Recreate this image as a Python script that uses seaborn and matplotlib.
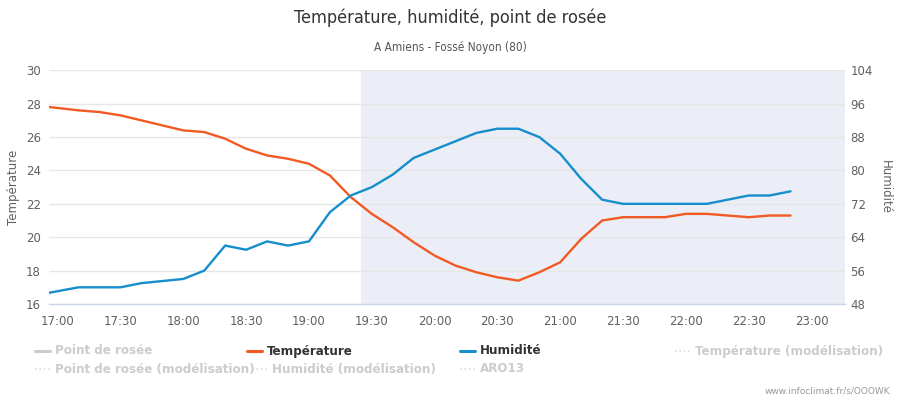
import matplotlib
matplotlib.use("Agg")
import matplotlib.pyplot as plt
from matplotlib.lines import Line2D
import seaborn as sns
import pandas as pd

# ---- data ----
times = ["16:56", "17:10", "17:20", "17:30", "17:40", "17:50", "18:00", "18:10", "18:20",
         "18:30", "18:40", "18:50", "19:00", "19:10", "19:20", "19:30", "19:40", "19:50",
         "20:00", "20:10", "20:20", "20:30", "20:40", "20:50", "21:00", "21:10", "21:20",
         "21:30", "21:40", "21:50", "22:00", "22:10", "22:20", "22:30", "22:40", "22:50"]
temperature = [27.8, 27.6, 27.5, 27.3, 27.0, 26.7, 26.4, 26.3, 25.9,
               25.3, 24.9, 24.7, 24.4, 23.7, 22.4, 21.4, 20.6, 19.7,
               18.9, 18.3, 17.9, 17.6, 17.4, 17.9, 18.5, 19.9, 21.0,
               21.2, 21.2, 21.2, 21.4, 21.4, 21.3, 21.2, 21.3, 21.3]
humidity = [50.7, 52, 52, 52, 53, 53.5, 54, 56, 62,
            61, 63, 62, 63, 70, 74, 76, 79, 83,
            85, 87, 89, 90, 90, 88, 84, 78, 73,
            72, 72, 72, 72, 72, 73, 74, 74, 75]
x_ticks = ["17:00", "17:30", "18:00", "18:30", "19:00", "19:30", "20:00",
           "20:30", "21:00", "21:30", "22:00", "22:30", "23:00"]
temp_ticks = [16, 18, 20, 22, 24, 26, 28, 30]
hum_ticks = [48, 56, 64, 72, 80, 88, 96, 104]
night_start = "19:25"
x_range = ("16:56", "23:16")
legend_items = ["Point de rosée", "Température", "Humidité", "Température (modélisation)",
                "Point de rosée (modélisation)", "Humidité (modélisation)", "ARO13"]

def to_min(s):
    h, m = s.split(":")
    return int(h) * 60 + int(m)

df = pd.DataFrame({"t": [to_min(t) for t in times],
                   "temperature": temperature, "humidity": humidity})

ORANGE = "#F15A22"
BLUE = "#168ECD"
GRID = "#E6E6E6"
AXC = "#CCD6EB"
TXT = "#606060"

sns.set_style("white")
plt.rcParams["font.family"] = ["DejaVu Sans"]

fig = plt.figure(figsize=(9, 4), dpi=100)
ax = fig.add_axes([49.3 / 900, 96 / 400, (845 - 49.3) / 900, (304 - 70.3) / 400])
ax2 = ax.twinx()

xmin, xmax = to_min(x_range[0]), to_min(x_range[1])
ax.axvspan(to_min(night_start), xmax, color="#EBEEF6", lw=0, zorder=0)

sns.lineplot(data=df, x="t", y="temperature", ax=ax, color=ORANGE, lw=1.7, zorder=3)
sns.lineplot(data=df, x="t", y="humidity", ax=ax2, color=BLUE, lw=1.7, zorder=3)

ax.set_xlim(xmin, xmax)
ax.set_ylim(temp_ticks[0], temp_ticks[-1])
ax2.set_ylim(hum_ticks[0], hum_ticks[-1])
ax.set_yticks(temp_ticks)
ax.set_yticklabels([str(v) for v in temp_ticks])
ax2.set_yticks(hum_ticks)
ax2.set_yticklabels([str(v) for v in hum_ticks])
ax.set_xticks([to_min(t) for t in x_ticks])
ax.set_xticklabels(x_ticks)

for a in (ax, ax2):
    for s in ("top", "left", "right"):
        a.spines[s].set_visible(False)
    a.spines["bottom"].set_color(AXC)
    a.spines["bottom"].set_linewidth(1)
    a.set_xlabel("")
    a.set_ylabel("")
ax2.spines["bottom"].set_visible(False)

ax.grid(axis="y", color=GRID, lw=1, zorder=1)
ax.set_axisbelow(True)

ax.tick_params(axis="x", colors=AXC, labelcolor=TXT, length=6, width=1, labelsize=8.5, pad=2)
ax.tick_params(axis="y", length=0, labelcolor=TXT, labelsize=8.5, pad=6)
ax2.tick_params(axis="y", length=0, labelcolor=TXT, labelsize=8.5, pad=4)

fig.text(14 / 900, 1 - 187 / 400, "Température", rotation=90, ha="center", va="center",
         color=TXT, fontsize=8.5)
fig.text(885 / 900, 1 - 187 / 400, "Humidité", rotation=270, ha="center", va="center",
         color=TXT, fontsize=8.5)

fig.text(0.5, 1 - 18 / 400, "Température, humidité, point de rosée", ha="center", va="center",
         color="#333333", fontsize=13, fontstretch="condensed")
fig.text(0.5, 1 - 48 / 400, "A Amiens - Fossé Noyon (80)", ha="center", va="center",
         color="#555555", fontsize=8.5, fontstretch="condensed")
fig.text(890 / 900, 1 - 391 / 400, "www.infoclimat.fr/s/OOOWK", ha="right", va="center",
         color="#999999", fontsize=6.5)

# legend (manual, Highcharts-like layout)
pos = [(35, 351), (247, 351), (460, 351), (675, 351),
       (35, 369), (252, 369), (460, 369)]
styles = [("#CCCCCC", "-", False), (ORANGE, "-", True), (BLUE, "-", True),
          ("#DDDDDD", ":", False), ("#DDDDDD", ":", False), ("#DDDDDD", ":", False),
          ("#DDDDDD", ":", False)]
for (px, py), label, (c, ls, active) in zip(pos, legend_items, styles):
    yy = 1 - py / 400
    fig.add_artist(Line2D([px / 900, (px + 15) / 900], [yy, yy], color=c,
                          lw=2.2 if ls == "-" else 1.2, ls=ls))
    fig.text((px + 20) / 900, yy, label, ha="left", va="center", fontsize=9.5,
             fontweight="bold", fontstretch="condensed",
             color="#333333" if active else "#CCCCCC")

fig.savefig("out.png", dpi=100)
